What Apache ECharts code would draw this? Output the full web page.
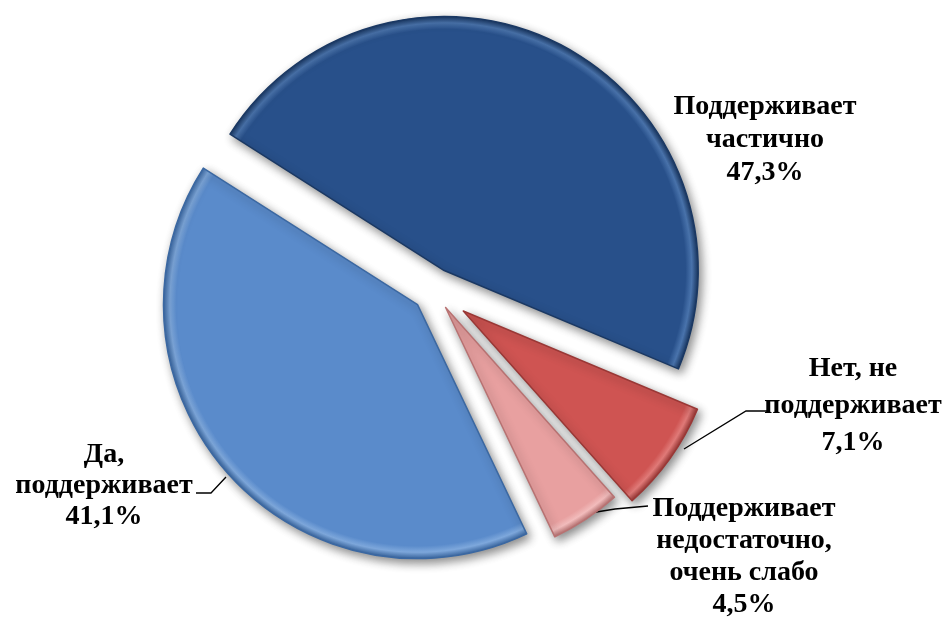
<!DOCTYPE html>
<html>
<head>
<meta charset="utf-8">
<script src="https://cdn.jsdelivr.net/npm/echarts@6/dist/echarts.min.js"></script>
<style>
  html, body { margin: 0; padding: 0; background: #fff; }
  #main { width: 944px; height: 617px; }
</style>
</head>
<body>
<div id="main"></div>
<script>
// доли ответов (по часовой стрелке, начиная с верхнего разреза)
var names = ['Поддерживает\nчастично', 'Нет, не\nподдерживает', 'Поддерживает\nнедостаточно,\nочень слабо', 'Да,\nподдерживает'];
var values = [47.3, 7.1, 4.5, 41.1];

var colors = ['#28508a', '#cf5452', '#e8a0a0', '#5a8bcb'];
var rims = ['#4a74ad', '#e07a78', '#f2bcbc', '#7ea8dc'];
var borders = ['#1a3863', '#9a3836', '#b87272', '#3b68a2'];
// насколько выдвинут каждый сектор
var offsets = [22, 36, 21, 22];
// подписи и выноски
var labelPos = [[765, 140], [853, 406], [744, 557], [104, 486]];
var lineH = [33, 37, 32, 31];
var leaders = [null,
  [[684, 449], [746, 411], [768, 411]],
  [[590, 513], [615, 509], [648, 506]],
  [[226, 477], [211, 493], [196, 493]]];

var cx = 434, cy = 290, R = 254, startAngle = 147.5;

var myChart = echarts.init(document.getElementById('main'));

var total = values.reduce(function (a, b) { return a + b; }, 0);

// по серии на сектор: у каждого свой вынос (сдвиг центра по биссектрисе),
// остальные секторы в серии прозрачные
var acc = 0;
var series = values.map(function (val, k) {
  var mid = (startAngle - 360 * (acc + val / 2) / total) * Math.PI / 180;
  acc += val;
  var center = [cx + offsets[k] * Math.cos(mid), cy - offsets[k] * Math.sin(mid)];
  // светлый ободок у края, как у "объёмного" сектора
  var fill = {
    type: 'radial', x: center[0], y: center[1], r: R, global: true,
    colorStops: [
      { offset: 0, color: colors[k] },
      { offset: 0.95, color: colors[k] },
      { offset: 0.975, color: rims[k] },
      { offset: 1, color: borders[k] }
    ]
  };
  return {
    type: 'pie',
    center: center,
    radius: R,
    startAngle: startAngle,
    clockwise: true,
    avoidLabelOverlap: false,
    silent: true,
    animation: false,
    label: {
      position: 'outside',
      fontFamily: 'Liberation Serif',
      fontWeight: 'bold',
      fontSize: 28,
      color: '#000',
      formatter: function (p) {
        return p.name + '\n' + String(p.value).replace('.', ',') + '%';
      }
    },
    labelLine: {
      lineStyle: { color: '#000', width: 1.3 }
    },
    labelLayout: function (p) {
      if (p.dataIndex !== k) return;
      var res = {
        x: labelPos[k][0],
        y: labelPos[k][1],
        align: 'center',
        verticalAlign: 'middle'
      };
      if (leaders[k]) res.labelLinePoints = leaders[k];
      return res;
    },
    data: values.map(function (v, j) {
      var on = j === k;
      return {
        name: names[j],
        value: v,
        itemStyle: on ? {
          color: fill,
          borderColor: borders[j],
          borderWidth: 1.5,
          shadowBlur: 10,
          shadowColor: 'rgba(0,0,0,0.45)',
          shadowOffsetX: 3,
          shadowOffsetY: 4
        } : { color: 'rgba(0,0,0,0)', borderWidth: 0 },
        label: { show: on, lineHeight: lineH[j] },
        labelLine: { show: on && leaders[j] !== null }
      };
    })
  };
});

myChart.setOption({
  backgroundColor: '#fff',
  series: series
});
</script>
</body>
</html>
